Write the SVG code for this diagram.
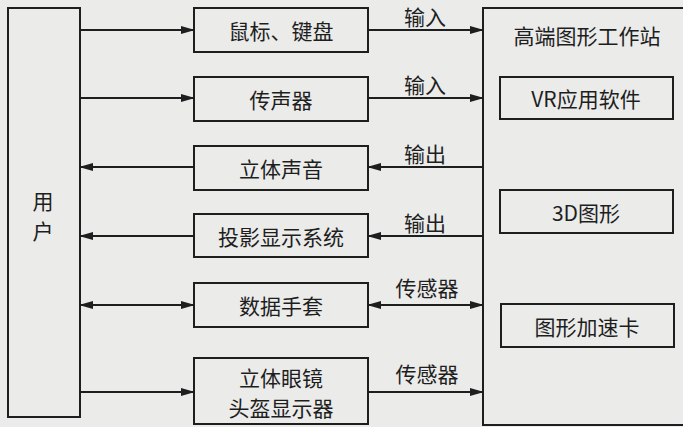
<svg xmlns="http://www.w3.org/2000/svg" width="683" height="427" viewBox="0 0 683 427">
<defs>
<style>
.bx{fill:none;stroke:#1e1e1e;stroke-width:2}
.ln{stroke:#1e1e1e;stroke-width:1.8;fill:none}
.t{font-family:"Noto Sans CJK SC","Liberation Serif",sans-serif;font-size:21px;fill:#1e1e1e;text-anchor:middle;dominant-baseline:central}
</style>
<marker id="ah" markerWidth="14" markerHeight="10" refX="13" refY="5" orient="auto-start-reverse" markerUnits="userSpaceOnUse">
<path d="M0,1 L14,5 L0,9 Z" fill="#1e1e1e"/>
</marker>
</defs>
<rect width="683" height="427" fill="#ebebea"/>
<g id="user">
<rect class="bx" x="8" y="8" width="72" height="409"/>
<text class="t" x="43" y="200">用</text>
<text class="t" x="43" y="230">户</text>
</g>
<g id="mouse"><rect class="bx" x="194" y="8" width="174" height="44"/><text class="t" x="281" y="30">鼠标、键盘</text></g>
<g id="mic"><rect class="bx" x="194" y="77" width="174" height="44"/><text class="t" x="281" y="99">传声器</text></g>
<g id="sound"><rect class="bx" x="194" y="146" width="174" height="44"/><text class="t" x="281" y="168">立体声音</text></g>
<g id="proj"><rect class="bx" x="194" y="214" width="174" height="43"/><text class="t" x="281" y="236">投影显示系统</text></g>
<g id="glove"><rect class="bx" x="194" y="283" width="174" height="44"/><text class="t" x="281" y="305">数据手套</text></g>
<g id="hmd"><rect class="bx" x="194" y="358" width="174" height="66"/><text class="t" x="281" y="377">立体眼镜</text><text class="t" x="281" y="407">头盔显示器</text></g>
<g id="ws">
<rect class="bx" x="483" y="8" width="210" height="417"/>
<text class="t" x="587" y="35">高端图形工作站</text>
</g>
<g id="vr"><rect class="bx" x="500" y="77" width="173" height="42"/><text class="t" x="586" y="98">VR应用软件</text></g>
<g id="g3d"><rect class="bx" x="500" y="190" width="173" height="43"/><text class="t" x="586" y="212">3D图形</text></g>
<g id="gpu"><rect class="bx" x="501" y="304" width="173" height="43"/><text class="t" x="587" y="326">图形加速卡</text></g>
<g id="connectors">
<line class="ln" x1="80" y1="30" x2="194" y2="30" marker-end="url(#ah)"/>
<line class="ln" x1="80" y1="98" x2="194" y2="98" marker-end="url(#ah)"/>
<line class="ln" x1="194" y1="167" x2="80" y2="167" marker-end="url(#ah)"/>
<line class="ln" x1="194" y1="236" x2="80" y2="236" marker-end="url(#ah)"/>
<line class="ln" x1="80" y1="305" x2="194" y2="305" marker-start="url(#ah)" marker-end="url(#ah)"/>
<line class="ln" x1="80" y1="392" x2="194" y2="392" marker-end="url(#ah)"/>
<line class="ln" x1="368" y1="30" x2="483" y2="30" marker-end="url(#ah)"/>
<line class="ln" x1="368" y1="98" x2="483" y2="98" marker-end="url(#ah)"/>
<line class="ln" x1="483" y1="167" x2="368" y2="167" marker-end="url(#ah)"/>
<line class="ln" x1="483" y1="236" x2="368" y2="236" marker-end="url(#ah)"/>
<line class="ln" x1="368" y1="305" x2="483" y2="305" marker-start="url(#ah)" marker-end="url(#ah)"/>
<line class="ln" x1="368" y1="392" x2="483" y2="392" marker-end="url(#ah)"/>
<text class="t" x="425" y="16">输入</text>
<text class="t" x="425" y="84">输入</text>
<text class="t" x="425" y="153">输出</text>
<text class="t" x="425" y="222">输出</text>
<text class="t" x="427" y="287">传感器</text>
<text class="t" x="427" y="373">传感器</text>
</g>
</svg>
